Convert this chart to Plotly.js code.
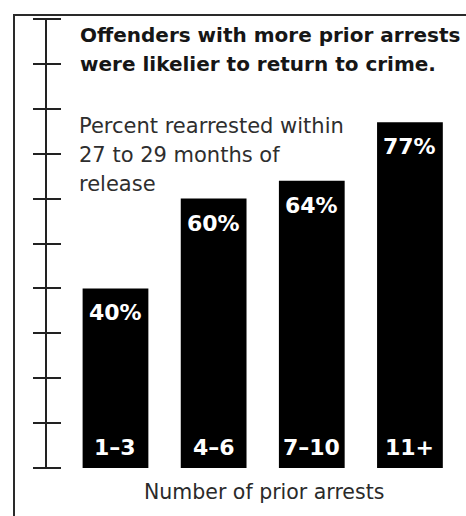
<!DOCTYPE html>
<html>
<head>
<meta charset="utf-8">
<script src="https://cdn.plot.ly/plotly-3.0.1.min.js"></script>
<style>
  html, body { margin: 0; padding: 0; background: #fff; }
  #wrap { position: relative; width: 466px; height: 516px; overflow: hidden; }
  #chart { position: absolute; left: 0; top: 0; width: 466px; height: 516px; }
  #frame { position: absolute; left: 13px; top: 14px; width: 470px; height: 520px;
           border-left: 2px solid #2a2a2a; border-top: 2px solid #2a2a2a; pointer-events: none; }
</style>
</head>
<body>
<div id="wrap">
  <div id="chart"></div>
  <div id="frame"></div>
</div>
<script>
// ---- data ----
const categories = ['1\u20133', '4\u20136', '7\u201310', '11+'];
const values = [40, 60, 64, 77];
const valueLabels = ['40%', '60%', '64%', '77%'];
const tickValues = [0, 10, 20, 30, 40, 50, 60, 70, 80, 90, 100];
const titleLines = ['Offenders with more prior arrests', 'were likelier to return to crime.'];
const subtitleLines = ['Percent rearrested within', '27 to 29 months of', 'release'];
const xTitle = 'Number of prior arrests';

// ---- layout helpers ----
const W = 466, H = 516;
const M = { l: 46, r: 6, t: 19, b: 48 };
const PW = W - M.l - M.r, PH = H - M.t - M.b;
const px = x => (x - M.l) / PW;          // pixel -> paper x
const py = y => (H - M.b - y) / PH;      // pixel -> paper y

const FONT = '"DejaVu Sans", sans-serif';
const annotations = [];

titleLines.forEach((t, i) => {
  annotations.push({
    text: t, xref: 'paper', yref: 'paper', x: px(78), y: py([35, 64][i]),
    xanchor: 'left', yanchor: 'middle', showarrow: false,
    font: { family: FONT, size: 20, color: '#161616', weight: 'bold' }
  });
});
subtitleLines.forEach((t, i) => {
  annotations.push({
    text: t, xref: 'paper', yref: 'paper', x: px(77), y: py([126, 155, 184][i]),
    xanchor: 'left', yanchor: 'middle', showarrow: false,
    font: { family: FONT, size: 21, color: '#2e2e2e' }
  });
});
annotations.push({
  text: xTitle, xref: 'paper', yref: 'paper', x: px(264), y: py(492),
  xanchor: 'center', yanchor: 'middle', showarrow: false,
  font: { family: FONT, size: 20.5, color: '#2a2a2a' }
});
values.forEach((v, i) => {
  annotations.push({
    text: valueLabels[i], xref: 'x', yref: 'y', x: i, y: v,
    xanchor: 'center', yanchor: 'top', yshift: -10, showarrow: false,
    font: { family: FONT, size: 22, color: '#ffffff', weight: 'bold' }
  });
  annotations.push({
    text: categories[i], xref: 'x', yref: 'y', x: i, y: 0,
    xanchor: 'center', yanchor: 'bottom', yshift: 6, showarrow: false,
    font: { family: FONT, size: 22, color: '#ffffff', weight: 'bold' }
  });
});

const data = [
  {
    type: 'bar', x: categories, y: values, width: 0.67,
    marker: { color: '#000000', line: { width: 0 } },
    hoverinfo: 'skip', showlegend: false
  }
];

const layout = {
  width: W, height: H, margin: M,
  paper_bgcolor: '#ffffff', plot_bgcolor: '#ffffff',
  showlegend: false,
  xaxis: { type: 'category', range: [-0.708, 3.51], visible: false },
  // ticks drawn from a free-positioned axis so they cross the vertical spine
  yaxis: {
    range: [0, 100], tickvals: tickValues, showticklabels: false,
    showgrid: false, zeroline: false, showline: false,
    anchor: 'free', position: px(61), side: 'left',
    ticks: 'outside', ticklen: 28, tickwidth: 2, tickcolor: '#222'
  },
  shapes: [{
    // vertical spine of the value scale
    type: 'line', xref: 'paper', yref: 'y', x0: px(46), x1: px(46), y0: 0, y1: 100,
    line: { color: '#222', width: 2 }
  }],
  annotations: annotations
};

Plotly.newPlot('chart', data, layout, { staticPlot: true, displayModeBar: false });
</script>
</body>
</html>
